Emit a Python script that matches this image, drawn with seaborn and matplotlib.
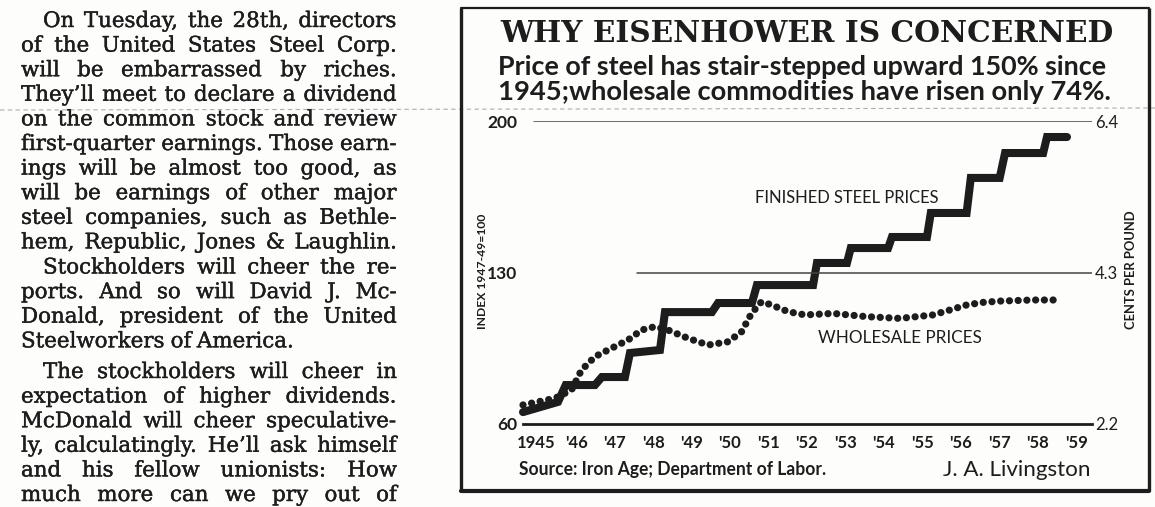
import matplotlib
matplotlib.use("Agg")
import numpy as np
import pandas as pd
import seaborn as sns
import matplotlib.pyplot as plt
import matplotlib.patheffects as pe

sns.set_style("white")
plt.rcParams['font.family'] = ['Lato', 'DejaVu Sans']

W, H = 1155, 507
INK = '#1d1d1d'
PAPER = '#fdfdfc'
SERIF = ['DejaVu Serif']

# finished steel prices, index 1947-49=100 (corners of the stair line)
steel_year = [1945.12, 1946.03, 1946.23, 1946.99, 1947.17, 1947.77, 1947.90, 1948.68,
              1948.81, 1950.03, 1950.19, 1951.07, 1951.20, 1952.66, 1952.76, 1953.54,
              1953.64, 1954.61, 1954.71, 1955.62, 1955.72, 1956.65, 1956.76, 1957.51,
              1957.65, 1958.64, 1958.74, 1959.26]
steel_index = [65.5, 70.2, 78.0, 78.0, 81.7, 81.7, 92.8, 94.2,
               111.7, 111.7, 115.9, 115.9, 124.2, 124.2, 134.4, 134.4,
               141.3, 141.3, 146.4, 146.4, 157.5, 157.5, 173.7, 173.7,
               185.2, 185.2, 192.6, 192.6]

# wholesale prices, same index
wholesale_year = [1945.12, 1945.95, 1946.38, 1946.64, 1946.99, 1947.42, 1947.85, 1948.20,
                  1948.55, 1948.89, 1949.41, 1949.93, 1950.45, 1950.80, 1951.06, 1951.32,
                  1951.58, 1952.01, 1952.45, 1953.18, 1954.05, 1954.92, 1955.78, 1956.22,
                  1956.65, 1957.08, 1957.52, 1958.38, 1959.08]
wholesale_index = [68.8, 71.9, 75.7, 84.9, 91.1, 95.0, 98.8, 103.4,
                   105.0, 103.4, 99.6, 96.5, 98.0, 102.6, 111.1, 116.5,
                   115.0, 111.9, 110.4, 111.1, 109.6, 108.8, 110.4, 112.7,
                   115.0, 116.2, 116.8, 117.3, 117.3]

year_labels = ["1945", "'46", "'47", "'48", "'49", "'50", "'51", "'52",
               "'53", "'54", "'55", "'56", "'57", "'58", "'59"]
index_ticks = [60, 130, 200]
cents_ticks = [2.2, 4.3, 6.4]

column = [
    ["On Tuesday, the 28th, directors",
     "of the United States Steel Corp.",
     "will be embarrassed by riches.",
     "They\u2019ll meet to declare a dividend",
     "on the common stock and review",
     "first-quarter earnings. Those earn-",
     "ings will be almost too good, as",
     "will be earnings of other major",
     "steel companies, such as Bethle-",
     "hem, Republic, Jones & Laughlin."],
    ["Stockholders will cheer the re-",
     "ports. And so will David J. Mc-",
     "Donald, president of the United",
     "Steelworkers of America."],
    ["The stockholders will cheer in",
     "expectation of higher dividends.",
     "McDonald will cheer speculative-",
     "ly, calculatingly. He\u2019ll ask himself",
     "and his fellow unionists: How",
     "much more can we pry out of"],
]
para_top = [27, 273.5, 378]

fig = plt.figure(figsize=(W / 100, H / 100), dpi=100)
fig.patch.set_facecolor(PAPER)
bg = fig.add_axes([0, 0, 1, 1], zorder=0)
bg.set_xlim(0, W)
bg.set_ylim(H, 0)
bg.axis('off')
renderer = fig.canvas.get_renderer()
ink_fx = [pe.withStroke(linewidth=0.3, foreground=INK)]


def fit(t, target, vertical=False):
    bb = t.get_window_extent(renderer)
    size = bb.height if vertical else bb.width
    t.set_fontsize(t.get_fontsize() * target / size)
    return t.get_fontsize()


# body size: the widest line just fills the column
probe = bg.text(0, 0, "ly, calculatingly. He\u2019ll ask himself", family=SERIF, fontsize=14)
body_size = fit(probe, 362)
probe.remove()


def set_line(words, x0, x1, y, justify):
    ts = [bg.text(0, y, w, family=SERIF, fontsize=body_size, color=INK, va='baseline',
                  path_effects=ink_fx) for w in words]
    ws = [t.get_window_extent(renderer).width for t in ts]
    gap = (x1 - x0 - sum(ws)) / (len(ts) - 1) if justify and len(ts) > 1 else body_size * 0.35
    x = x0
    for t, w in zip(ts, ws):
        t.set_x(x)
        x += w + gap


# newspaper column on the left
for p, (lines, y0) in enumerate(zip(column, para_top)):
    for i, line in enumerate(lines):
        last = (p == 1 and i == len(lines) - 1)
        set_line(line.split(), 43 if i == 0 else 21, 397, y0 + i * 24.6, not last)

# fold mark of the scan
bg.plot([0, W], [110, 108], color='#8c8c8c', lw=0.8, ls=(0, (4, 3)), alpha=0.7)

# box round the chart
bg.plot([461, 461], [8, 491], color=INK, lw=2.4, solid_capstyle='butt')
bg.plot([1149, 1149], [8, 491], color=INK, lw=2.4, solid_capstyle='butt')
bg.plot([461, 1149], [491, 491], color=INK, lw=3.0)
bg.plot([461, 1149], [8, 8], color=INK, lw=1.6)

t = bg.text(500, 42, "WHY EISENHOWER IS CONCERNED", family=['DejaVu Serif'],
            weight='bold', fontsize=22, color=INK, va='baseline')
fit(t, 613)
t = bg.text(498, 75, "Price of steel has stair-stepped upward 150% since",
            weight='bold', fontsize=16, color=INK, va='baseline')
fit(t, 612)
t = bg.text(498, 100, "1945;wholesale commodities have risen only 74%.",
            weight='bold', fontsize=16, color=INK, va='baseline')
fit(t, 615)

t = bg.text(519, 475, "Source: Iron Age; Department of Labor.", weight='bold',
            fontsize=9, color=INK, va='baseline')
fit(t, 307)
t = bg.text(943, 476, "J. A. Livingston", fontsize=12, color=INK, va='baseline')
fit(t, 147)

t = bg.text(483, 271, "INDEX 1947-49=100", rotation=90, weight='bold', fontsize=7,
            color=INK, ha='center', va='center')
fit(t, 115, vertical=True)
t = bg.text(1131, 270, "CENTS PER POUND", rotation=90, weight='bold', fontsize=7,
            color=INK, ha='center', va='center')
fit(t, 120, vertical=True)

# the chart itself
ax = fig.add_axes([523 / W, 1 - 424 / H, (1092 - 523) / W, (424 - 121) / H], zorder=2)
ax.patch.set_alpha(0)

sns.lineplot(x=steel_year, y=steel_index, ax=ax, color=INK, linewidth=5.8,
             sort=False, estimator=None, solid_joinstyle='miter', clip_on=False)
sns.lineplot(x=wholesale_year, y=wholesale_index, ax=ax, color=INK, linewidth=5.2,
             sort=False, estimator=None, linestyle=(0, (0.01, 1.2)),
             dash_capstyle='round', clip_on=False)

ax.set_xlim(1945.12, 1959.91)
ax.set_ylim(60, 200)
ax.set_xlabel('')
ax.set_ylabel('')
for s in ['left', 'right', 'top']:
    ax.spines[s].set_visible(False)
ax.spines['bottom'].set_linewidth(2.0)
ax.spines['bottom'].set_color(INK)

ax.axhline(200, xmin=0.02, color='#444444', lw=1.1)
ax.axhline(130, xmin=0.2, color='#444444', lw=1.1)

ax.set_xticks([1945.12] + list(range(1946, 1960)) + [1959.91])
ax.set_xticklabels([])
ax.set_xticks([1945.45] + [y + 0.5 for y in range(1946, 1960)], minor=True)
ax.set_xticklabels(year_labels, minor=True, weight='bold', fontsize=12, color=INK)
ax.tick_params(axis='x', which='major', direction='in', length=9, width=1.6, color=INK)
ax.tick_params(axis='x', which='minor', length=0, pad=8)

ax.set_yticks(index_ticks)
ax.set_yticklabels([str(v) for v in index_ticks], weight='bold', fontsize=12.5, color=INK)
ax.tick_params(axis='y', length=0, pad=4)

ax2 = ax.twinx()
ax2.set_ylim(2.2, 6.4)
ax2.set_yticks(cents_ticks)
ax2.set_yticklabels([str(v) for v in cents_ticks], fontsize=12, color=INK)
ax2.tick_params(axis='y', length=0, pad=2)
for s in ax2.spines.values():
    s.set_visible(False)

t = ax.text(1951.15, 164.4, "FINISHED STEEL PRICES", fontsize=10, color=INK, va='center')
fit(t, 182)
t = ax.text(1952.79, 99.7, "WHOLESALE PRICES", fontsize=10, color=INK, va='center')
fit(t, 162)

fig.savefig('out.png', dpi=100, facecolor=PAPER)
